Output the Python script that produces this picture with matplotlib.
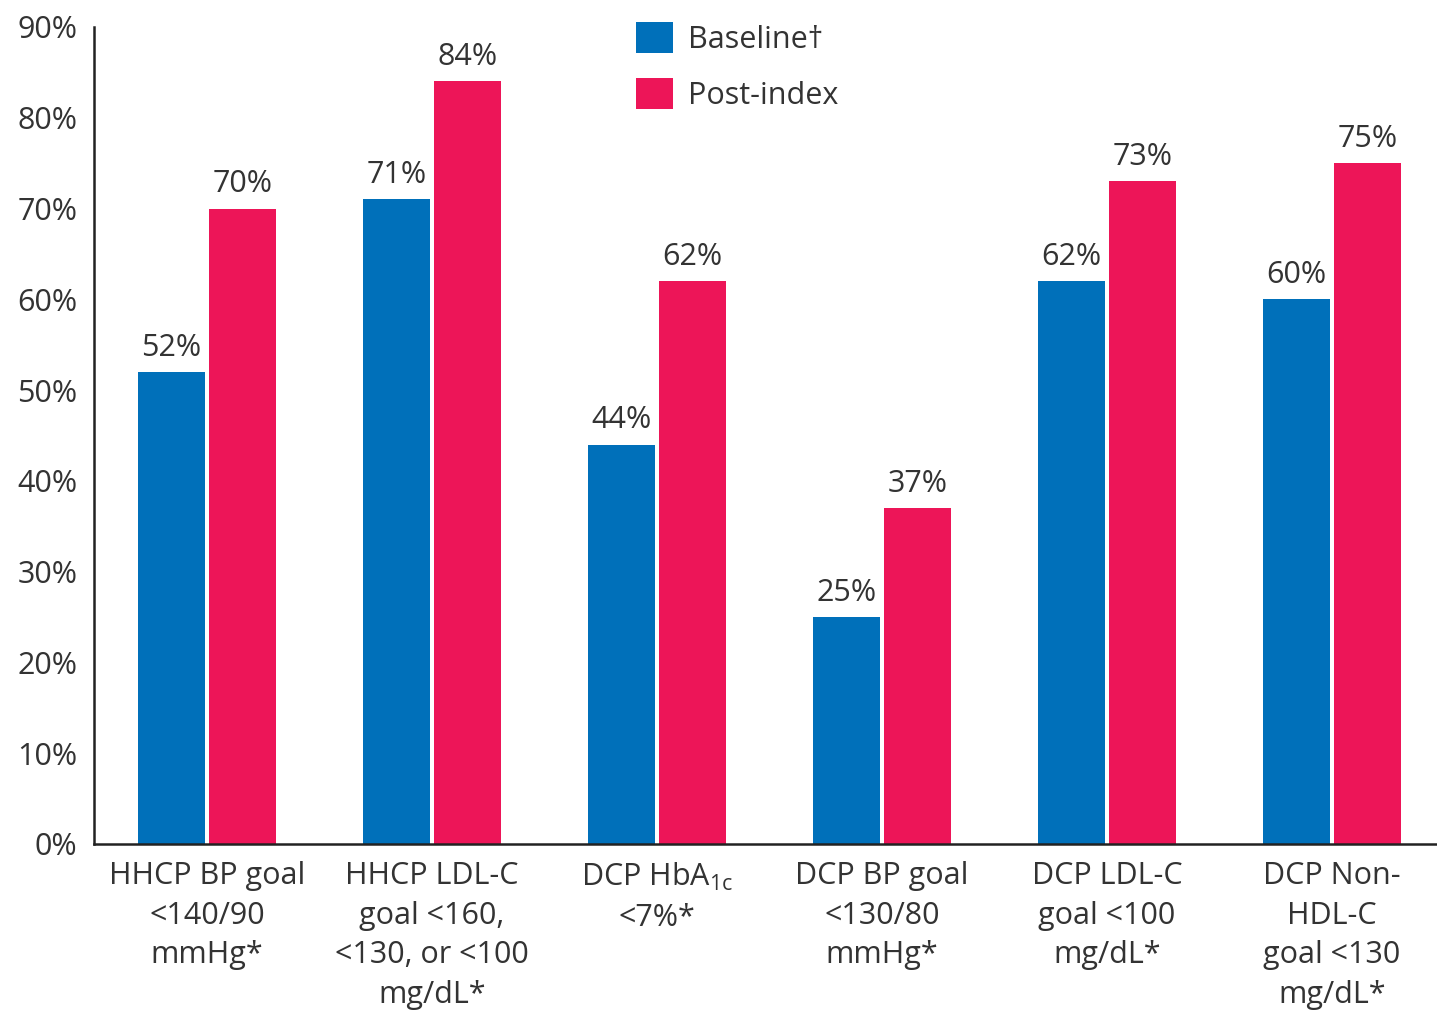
import matplotlib
matplotlib.use("Agg")
import matplotlib.pyplot as plt
import numpy as np

plt.rcParams['font.family'] = ['Open Sans', 'DejaVu Sans']
plt.rcParams['mathtext.fontset'] = 'custom'
plt.rcParams['mathtext.rm'] = 'Open Sans'
plt.rcParams['mathtext.it'] = 'Open Sans'

categories = [
    "HHCP BP goal\n<140/90\nmmHg*",
    "HHCP LDL-C\ngoal <160,\n<130, or <100\nmg/dL*",
    "DCP HbA$_{1c}$\n<7%*",
    "DCP BP goal\n<130/80\nmmHg*",
    "DCP LDL-C\ngoal <100\nmg/dL*",
    "DCP Non-\nHDL-C\ngoal <130\nmg/dL*",
]
baseline = [52, 71, 44, 25, 62, 60]
post_index = [70, 84, 62, 37, 73, 75]
yticks = [0, 10, 20, 30, 40, 50, 60, 70, 80, 90]

blue = "#0070BA"
pink = "#ED1558"
txt = "#333333"

fig = plt.figure(figsize=(14.37, 10.15), dpi=100)
ax = fig.add_axes([0.0654, 0.1685, 0.9346, 0.8049])

x = np.arange(len(categories))
w = 0.30
gap = 0.007
b1 = ax.bar(x - w / 2 - gap, baseline, w, color=blue, label="Baseline\u2020")
b2 = ax.bar(x + w / 2 + gap, post_index, w, color=pink, label="Post-index")

for bars, vals in ((b1, baseline), (b2, post_index)):
    for r, v in zip(bars, vals):
        ax.text(r.get_x() + r.get_width() / 2, v + 1.0, f"{v}%",
                ha="center", va="bottom", fontsize=22, color=txt)

ax.set_xlim(-0.502, 5.467)
ax.set_ylim(0, 90)
ax.set_yticks(yticks)
ax.set_yticklabels([f"{t}%" for t in yticks], fontsize=22, color=txt)
ax.set_xticks(x)
ax.set_xticklabels(categories, fontsize=22, color=txt, linespacing=1.43, va="top")
ax.tick_params(axis="both", length=0)
ax.tick_params(axis="x", pad=12)
ax.tick_params(axis="y", pad=12)

for s in ("top", "right"):
    ax.spines[s].set_visible(False)
for s in ("left", "bottom"):
    ax.spines[s].set_color("#222222")
    ax.spines[s].set_linewidth(1.8)

leg = ax.legend(loc="upper left", bbox_to_anchor=(0.383, 1.04), frameon=False,
                fontsize=22, handlelength=1.2, handleheight=1.2,
                handletextpad=0.5, labelspacing=0.75, labelcolor=txt)

fig.savefig("out.png", dpi=100)
